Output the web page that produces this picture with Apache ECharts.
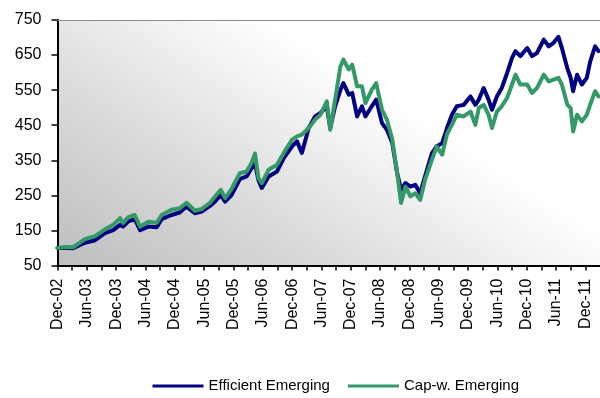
<!DOCTYPE html>
<html>
<head>
<meta charset="utf-8">
<script src="https://cdn.jsdelivr.net/npm/echarts@6/dist/echarts.min.js"></script>
<style>html,body{margin:0;padding:0;background:#fff}#c{width:600px;height:398px}</style>
</head>
<body>
<div id="c"></div>
<script>
// x position: months since Dec-02
const months = [0,1.5,3.2,5.6,7.7,9.7,11.4,12.8,13.4,14.5,15.8,16.9,18.6,20.3,21.3,23.3,25,26.4,28.1,29.5,31.2,32.2,33.4,34.3,35.6,37.3,38.7,39.7,40.4,41.1,41.8,43.2,44.9,46.3,48,49,50,51.4,52.7,53.8,55.1,55.8,56.8,57.9,58.5,59.6,60.3,61.3,62.3,63,64.3,65.2,66.4,67.4,68.5,69.5,70.3,71.2,72.2,73.2,74.2,75.2,76.6,77.6,78.7,79.7,80.7,81.7,83.1,84.5,85.5,86.2,87.2,88.2,88.9,89.9,90.9,92,93,93.7,94.7,96.1,97.1,98.1,99.5,100.5,101.5,102.5,103.2,104.3,105,105.5,106.3,107.3,108.3,109,110,110.7];
const efficientEmerging = [100,100,99,115,122,142,151,166,161,176,182,151,161,159,182,194,201,218,199,204,220,232,251,232,251,296,304,328,342,294,271,304,318,356,390,404,371,442,475,485,504,442,504,551,570,537,542,475,504,475,504,523,456,437,399,313,266,285,275,280,256,304,370,390,399,442,480,504,508,532,508,523,556,523,494,532,556,599,642,661,647,670,647,656,694,675,685,702,670,613,585,547,594,566,585,632,675,661];
const capWEmerging = [100,103,102,125,134,153,166,185,171,188,194,161,175,172,194,209,213,229,206,211,229,246,266,242,268,313,318,342,369,300,285,323,337,371,409,418,423,442,466,480,518,437,523,618,637,609,623,561,561,513,551,570,494,466,409,313,228,275,247,256,237,294,351,389,366,425,451,480,475,489,451,499,508,480,442,489,504,528,566,594,566,566,542,556,594,575,580,585,566,509,499,432,480,461,480,509,547,532];
const tickLabels = ['Dec-02','Jun-03','Dec-03','Jun-04','Dec-04','Jun-05','Dec-05','Jun-06','Dec-06','Jun-07','Dec-07','Jun-08','Dec-08','Jun-09','Dec-09','Jun-10','Dec-10','Jun-11','Dec-11'];
const seriesNames = ['Efficient Emerging','Cap-w. Emerging'];

const FONT = "'Liberation Sans', Arial, sans-serif";
const pair = arr => months.map((m, i) => [m, arr[i]]);

const chart = echarts.init(document.getElementById('c'), null, {renderer: 'canvas'});
chart.setOption({
  animation: false,
  grid: {
    left: 57.5, right: 0, top: 20, bottom: 132.5,
    show: true, borderWidth: 0,
    backgroundColor: {
      type: 'linear', x: 0, y: 1, x2: 0.3156, y2: -0.092,
      colorStops: [
        {offset: 0, color: '#bebebe'},
        {offset: 0.5, color: '#dcdcdc'},
        {offset: 1, color: '#ffffff'}
      ]
    }
  },
  legend: {
    left: 147.5, top: 372,
    icon: 'rect', itemWidth: 51, itemHeight: 3, itemGap: 18,
    textStyle: {fontFamily: FONT, fontSize: 15, color: '#000', lineHeight: 18},
    data: seriesNames
  },
  xAxis: [{
    type: 'value', min: 0, max: 111, interval: 3,
    axisLine: {show: true, onZero: false, lineStyle: {color: '#000', width: 2}},
    axisTick: {show: true, length: 5, lineStyle: {color: '#000', width: 1.5}},
    splitLine: {show: false},
    axisLabel: {
      rotate: 90, margin: 13, fontFamily: FONT, fontSize: 16, color: '#000',
      showMaxLabel: false,
      formatter: v => (v % 6 === 0 && tickLabels[v / 6]) ? tickLabels[v / 6] : ''
    }
  }, {
    type: 'value', position: 'top', min: 0, max: 111,
    axisLine: {show: true, onZero: false, lineStyle: {color: '#8c8c8c', width: 1.2}},
    axisTick: {show: false}, axisLabel: {show: false}, splitLine: {show: false}
  }],
  yAxis: {
    type: 'value', min: 50, max: 750, interval: 100,
    axisLine: {show: true, lineStyle: {color: '#000', width: 2}},
    axisTick: {show: true, length: 6, lineStyle: {color: '#000', width: 1.5}},
    splitLine: {show: false},
    axisLabel: {margin: 16, fontFamily: FONT, fontSize: 16, color: '#000'}
  },
  series: [{
    name: seriesNames[0], type: 'line', xAxisIndex: 0,
    data: pair(efficientEmerging), showSymbol: false, symbol: 'none',
    color: '#000080',
    lineStyle: {width: 4, color: '#000080', cap: 'round', join: 'round'}
  }, {
    name: seriesNames[1], type: 'line', xAxisIndex: 0,
    data: pair(capWEmerging), showSymbol: false, symbol: 'none',
    color: '#339966',
    lineStyle: {width: 4, color: '#339966', cap: 'round', join: 'round'}
  }]
});
</script>
</body>
</html>
